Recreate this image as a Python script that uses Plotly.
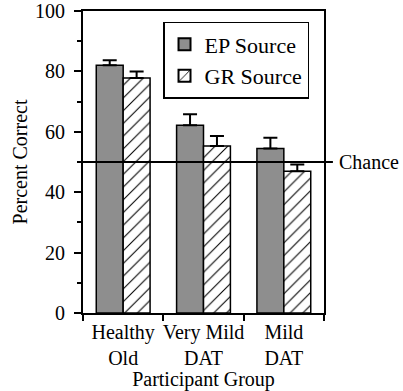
import plotly.graph_objects as go

groups = ["Healthy<br>Old", "Very Mild<br>DAT", "Mild<br>DAT"]
ep_values = [82.0, 62.2, 54.5]
ep_err = [1.7, 3.6, 3.5]
gr_values = [77.8, 55.3, 46.9]
gr_err = [2.2, 3.3, 2.3]
chance = 50
y_ticks = [0, 20, 40, 60, 80, 100]

FONT = "Liberation Serif"

fig = go.Figure()
fig.add_trace(go.Bar(
    x=groups, y=ep_values, name="EP Source",
    marker=dict(color="#8e8e8e", line=dict(color="black", width=1.5)),
    error_y=dict(type="data", symmetric=False, array=ep_err, arrayminus=[0, 0, 0],
                 color="black", thickness=2, width=7),
))
fig.add_trace(go.Bar(
    x=groups, y=gr_values, name="GR Source",
    marker=dict(color="white", line=dict(color="black", width=1.5),
                pattern=dict(shape="/", fgcolor="black", bgcolor="white", size=9, solidity=0.12)),
    error_y=dict(type="data", symmetric=False, array=gr_err, arrayminus=[0, 0, 0],
                 color="black", thickness=2, width=7),
))

fig.add_shape(type="line", xref="paper", yref="y", x0=0, x1=1.037, y0=chance, y1=chance,
              line=dict(color="black", width=2))
fig.add_annotation(text="Chance", xref="paper", yref="y", x=1.055, y=chance,
                   xanchor="left", yanchor="middle", showarrow=False,
                   font=dict(family=FONT, size=20, color="black"))

fig.update_layout(
    template="none",
    width=403, height=391,
    margin=dict(l=83, r=79, t=11, b=78, autoexpand=False),
    paper_bgcolor="white", plot_bgcolor="white",
    barmode="group", bargap=0.33, bargroupgap=0,
    font=dict(family=FONT, size=20, color="black"),
    showlegend=True,
    legend=dict(x=0.332, y=0.964, xanchor="left", yanchor="top",
                bordercolor="black", borderwidth=1.5, bgcolor="white",
                font=dict(family=FONT, size=22, color="black"),
                itemsizing="constant", tracegroupgap=2),
)
fig.update_xaxes(
    showline=True, linecolor="black", linewidth=2, mirror=True,
    ticks="outside", tickson="boundaries", ticklen=6, tickwidth=2, tickcolor="black",
    tickangle=0, automargin=False, showgrid=False,
    title=dict(text="Participant Group", font=dict(family=FONT, size=20, color="black"), standoff=4),
    tickfont=dict(family=FONT, size=20, color="black"),
)
fig.update_yaxes(
    range=[0, 100], tickvals=y_ticks, automargin=False,
    showline=True, linecolor="black", linewidth=2, mirror=True,
    ticks="outside", ticklen=7, tickwidth=2, tickcolor="black", ticklabelstandoff=5,
    minor=dict(dtick=10, ticks="outside", ticklen=4, tickwidth=2, tickcolor="black"),
    showgrid=False, zeroline=False,
    title=dict(text="Percent Correct", font=dict(family=FONT, size=20, color="black"), standoff=2),
    tickfont=dict(family=FONT, size=20, color="black"),
)

fig.write_html("out.html")
